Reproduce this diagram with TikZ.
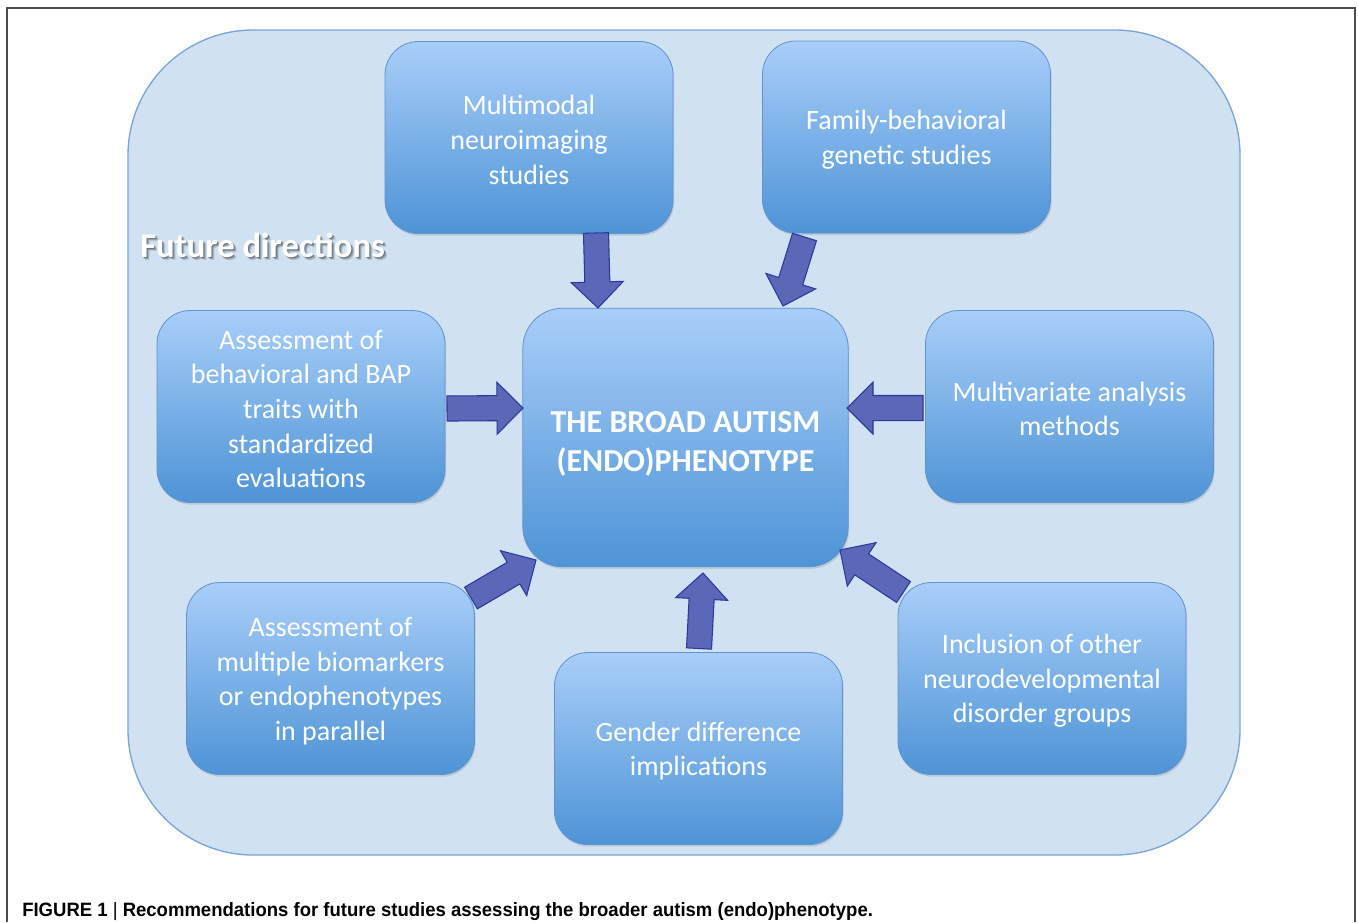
\documentclass[tikz,border=0pt]{standalone}
\usepackage{fontspec}
\setmainfont{Carlito}
\newfontfamily\capfont{Liberation Sans}
\usetikzlibrary{calc,shadows}

\definecolor{panelfill}{RGB}{208,225,242}
\definecolor{panelline}{RGB}{122,165,214}
\definecolor{boxtop}{RGB}{168,206,249}
\definecolor{boxbot}{RGB}{78,148,214}
\definecolor{boxline}{RGB}{96,146,206}
\definecolor{arrfill}{RGB}{93,103,183}
\definecolor{arrline}{RGB}{42,56,160}

% struts that lower the box texts a little
\newcommand{\up}{\rule{0pt}{0.87em}}
\newcommand{\upc}{\rule{0pt}{1.05em}}

% block arrow from tail #1 to tip #2
\newcommand{\blockarrow}[2]{%
  \coordinate (hb) at ($(#2)!19.5pt!(#1)$);
  \filldraw[blockarr] ($(#1)!9.4pt!90:(#2)$) -- ($(hb)!9.4pt!90:(#2)$)
    -- ($(hb)!19.5pt!90:(#2)$) -- (#2) -- ($(hb)!19.5pt!-90:(#2)$)
    -- ($(hb)!9.4pt!-90:(#2)$) -- ($(#1)!9.4pt!-90:(#2)$) -- cycle;
}

\begin{document}
\begin{tikzpicture}[x=0.75pt,y=-0.75pt,
    panel/.style={fill=panelfill,draw=panelline,line width=1pt,rounded corners=94pt},
    box/.style={rounded corners=25pt,minimum width=216pt,minimum height=144pt,
      top color=boxtop,bottom color=boxbot,draw=boxline,line width=0.6pt,
      text=white,align=center,inner sep=0pt,font=\fontsize{21}{26}\selectfont,
      drop shadow={shadow xshift=0.8pt,shadow yshift=-1.6pt,opacity=0.25}},
    core/.style={box,rounded corners=30pt,minimum width=244pt,minimum height=194pt,
      font=\fontsize{24}{29}\selectfont\bfseries},
    blockarr/.style={fill=arrfill,draw=arrline,line width=0.8pt,line join=miter},
    title/.style={anchor=base west,inner sep=0pt,font=\fontsize{26}{30}\selectfont\bfseries}]
  \useasboundingbox (0,0) rectangle (1358,922);
  \draw[gray!60!black,line width=0.9pt] (7,922) -- (7,8) -- (1355,8) -- (1355,922);
  \path[panel] (128,30) rectangle (1240,855);

  \foreach \d/\o in {3/0.12,2/0.2,1/0.25}
    \node[title,text=black,opacity=\o] (fds\d) at (140+\d,257+\d) {Future directions};
  \node[title,text=white] (fd) at (140,257) {Future directions};

  \node[core] (core) at (685.5,437.5) {\upc THE BROAD AUTISM\\(ENDO)PHENOTYPE};
  \node[box] (mm) at (529,137.5) {\up Multimodal\\neuroimaging\\studies};
  \node[box] (fam) at (906.5,137) {\up Family-behavioral\\genetic studies};
  \node[box] (beh) at (301,406.5) {\up Assessment of\\behavioral and BAP\\traits with\\standardized\\evaluations};
  \node[box] (mva) at (1069.5,406.5) {\up Multivariate analysis\\methods};
  \node[box] (bio) at (330.5,678.5) {\up Assessment of\\multiple biomarkers\\or endophenotypes\\in parallel};
  \node[box] (gen) at (698.5,748.5) {\up Gender difference\\implications};
  \node[box] (inc) at (1042,678.5) {\up Inclusion of other\\neurodevelopmental\\disorder groups};

  % arrow ends
  \coordinate (t1) at (596,233);   \coordinate (p1) at (598,308);
  \coordinate (t2) at (804.5,237); \coordinate (p2) at (783,306);
  \coordinate (t3) at (447,408.5); \coordinate (p3) at (523,408);
  \coordinate (t4) at (923,408);   \coordinate (p4) at (847,408);
  \coordinate (t5) at (471,598);   \coordinate (p5) at (536,560);
  \coordinate (t6) at (699,648.5); \coordinate (p6) at (703,573);
  \coordinate (t7) at (903.5,592); \coordinate (p7) at (840,550);
  \foreach \i in {1,...,7}{\blockarrow{t\i}{p\i}}

  \node[anchor=base west,inner sep=0pt] (cap) at (22,916)
    {\resizebox{638pt}{10.5pt}{\capfont\bfseries FIGURE 1 {\mdseries|} Recommendations for future studies assessing the broader autism (endo)phenotype.}};
\end{tikzpicture}
\end{document}
